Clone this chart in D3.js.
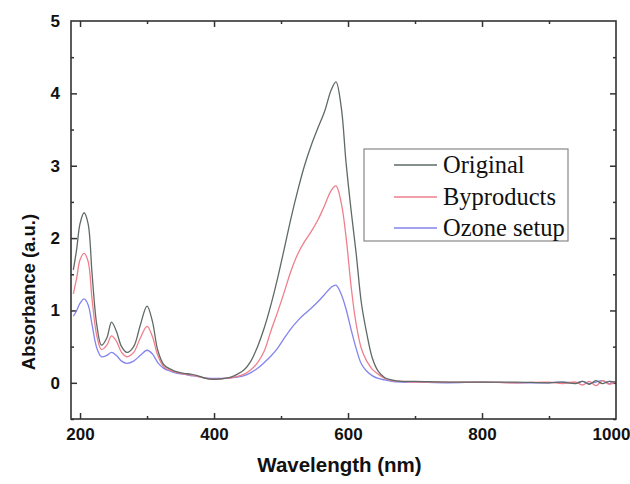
<!DOCTYPE html>
<html>
<head>
<meta charset="utf-8">
<script src="https://cdn.jsdelivr.net/npm/d3@7/dist/d3.min.js"></script>
<style>
  html, body { margin: 0; padding: 0; background: #fff; }
  svg { display: block; }
</style>
</head>
<body>
<svg id="chart" width="630" height="484"></svg>
<script>
// ---- data ----
const wavelengths = [190,195,200,206,212,218,225,232,240,247,254,262,270,280,290,300,308,316,325,335,345,355,365,375,385,395,405,415,425,435,445,455,465,475,485,495,505,515,525,535,545,555,565,575,582,590,597,605,612,620,628,636,645,655,665,680,700,750,800,850,900,920,940,950,960,970,980,990,1000];

const original = [1.56,1.85,2.20,2.35,2.20,1.50,0.80,0.52,0.62,0.84,0.72,0.50,0.42,0.50,0.80,1.06,0.85,0.45,0.25,0.19,0.15,0.13,0.12,0.10,0.07,0.05,0.05,0.06,0.08,0.12,0.18,0.30,0.50,0.76,1.08,1.45,1.86,2.28,2.66,3.00,3.28,3.52,3.75,4.05,4.16,3.80,3.05,2.35,1.80,1.10,0.68,0.35,0.16,0.07,0.04,0.02,0.02,0.01,0.01,0.01,0.00,0.01,-0.01,0.02,-0.02,0.03,-0.01,0.02,0.01];

const byproducts = [1.23,1.45,1.70,1.79,1.68,1.15,0.65,0.46,0.52,0.65,0.58,0.42,0.36,0.42,0.62,0.78,0.64,0.38,0.22,0.17,0.14,0.12,0.11,0.09,0.07,0.05,0.05,0.06,0.07,0.09,0.12,0.18,0.28,0.44,0.72,0.98,1.26,1.55,1.78,1.95,2.09,2.25,2.45,2.66,2.72,2.48,2.02,1.30,0.82,0.47,0.30,0.19,0.12,0.06,0.03,0.02,0.01,0.01,0.01,0.00,0.01,-0.01,0.01,-0.03,0.02,-0.04,0.03,-0.02,0.02];

const ozone = [0.92,1.00,1.10,1.16,1.08,0.80,0.48,0.36,0.38,0.42,0.38,0.30,0.27,0.30,0.38,0.45,0.40,0.28,0.20,0.16,0.13,0.12,0.10,0.09,0.07,0.06,0.06,0.06,0.07,0.08,0.10,0.14,0.20,0.28,0.37,0.48,0.62,0.75,0.86,0.95,1.03,1.12,1.22,1.32,1.35,1.22,1.02,0.72,0.48,0.26,0.16,0.10,0.06,0.04,0.02,0.01,0.01,0.00,0.01,0.00,0.00,0.01,0.00,0.02,-0.01,0.01,0.03,-0.01,0.01];

const seriesNames = ["Original", "Byproducts", "Ozone setup"];
const seriesColors = ["#5f6a64", "#ef7f8c", "#8484ee"];
const xMajorTicks = [200, 400, 600, 800, 1000];
const xMinorTicks = [300, 500, 700, 900];
const yMajorTicks = [0, 1, 2, 3, 4, 5];
const yMinorTicks = [-0.5, 0.5, 1.5, 2.5, 3.5, 4.5];

// ---- layout ----
const svg = d3.select("#chart");
const L = 71, R = 616, T = 21, B = 419;

const x = d3.scaleLinear().domain([186.5, 1000]).range([L, R]);
const y = d3.scaleLinear().domain([-0.5, 5]).range([B, T]);

const axisColor = "#333";
const tickFont = "'Liberation Sans', Arial, sans-serif";

function styleAxis(g) {
  g.select(".domain").remove();
  g.selectAll(".tick line").attr("stroke", axisColor).attr("stroke-width", 1.5);
  g.selectAll(".tick text")
    .attr("font-family", tickFont).attr("font-weight", "bold")
    .attr("font-size", 17).attr("fill", "#111");
}

// bottom
svg.append("g").attr("transform", `translate(0,${B})`)
  .call(d3.axisBottom(x).tickValues(xMajorTicks).tickSize(-6).tickPadding(9).tickFormat(d3.format("d")))
  .call(styleAxis)
  .call(g => g.selectAll(".tick").filter(d => d === 1000).select("line").remove())
  .call(g => g.selectAll(".tick").filter(d => d === 1000).select("text").attr("dx", -5));
svg.append("g").attr("transform", `translate(0,${B})`)
  .call(d3.axisBottom(x).tickValues(xMinorTicks).tickSize(-3).tickFormat(""))
  .call(styleAxis);
// top
svg.append("g").attr("transform", `translate(0,${T})`)
  .call(d3.axisTop(x).tickValues(xMajorTicks.filter(d => d < 1000)).tickSize(-6).tickFormat(""))
  .call(styleAxis);
svg.append("g").attr("transform", `translate(0,${T})`)
  .call(d3.axisTop(x).tickValues(xMinorTicks).tickSize(-3).tickFormat(""))
  .call(styleAxis);
// left
svg.append("g").attr("transform", `translate(${L},0)`)
  .call(d3.axisLeft(y).tickValues(yMajorTicks).tickSize(-6).tickPadding(11).tickFormat(d3.format("d")))
  .call(styleAxis)
  .call(g => g.selectAll(".tick").filter(d => d === 5).select("line").remove());
svg.append("g").attr("transform", `translate(${L},0)`)
  .call(d3.axisLeft(y).tickValues(yMinorTicks).tickSize(-3).tickFormat(""))
  .call(styleAxis);
// right
svg.append("g").attr("transform", `translate(${R},0)`)
  .call(d3.axisRight(y).tickValues(yMajorTicks.filter(d => d < 5)).tickSize(-6).tickFormat(""))
  .call(styleAxis);
svg.append("g").attr("transform", `translate(${R},0)`)
  .call(d3.axisRight(y).tickValues(yMinorTicks).tickSize(-3).tickFormat(""))
  .call(styleAxis);

// clip
svg.append("defs").append("clipPath").attr("id", "plotclip")
  .append("rect").attr("x", L).attr("y", T).attr("width", R - L).attr("height", B - T);

// lines
const allSeries = [original, byproducts, ozone];
const line = d3.line()
  .x((d, i) => x(wavelengths[i]))
  .y(d => y(d))
  .curve(d3.curveCatmullRom.alpha(0.5));

const plot = svg.append("g").attr("clip-path", "url(#plotclip)");
[2, 1, 0].forEach(k => {
  plot.append("path")
    .datum(allSeries[k])
    .attr("d", line)
    .attr("fill", "none")
    .attr("stroke", seriesColors[k])
    .attr("stroke-width", 1.3);
});

// frame
svg.append("rect")
  .attr("x", L).attr("y", T).attr("width", R - L).attr("height", B - T)
  .attr("fill", "none").attr("stroke", axisColor).attr("stroke-width", 1.6);

// axis titles
svg.append("text")
  .attr("x", (L + R) / 2 - 4).attr("y", 472)
  .attr("text-anchor", "middle")
  .attr("font-family", tickFont).attr("font-weight", "bold").attr("font-size", 20.5)
  .attr("fill", "#111")
  .text("Wavelength (nm)");

svg.append("text")
  .attr("transform", "translate(35,292) rotate(-90)")
  .attr("text-anchor", "middle")
  .attr("font-family", tickFont).attr("font-weight", "bold").attr("font-size", 18.5)
  .attr("fill", "#111")
  .text("Absorbance (a.u.)");

// legend
const legend = svg.append("g");
legend.append("rect")
  .attr("x", 364).attr("y", 149).attr("width", 204).attr("height", 92)
  .attr("fill", "#fff").attr("stroke", "#888").attr("stroke-width", 1.2);
const rowY = [165, 197, 228];
seriesNames.forEach((name, i) => {
  legend.append("line")
    .attr("x1", 394).attr("x2", 437).attr("y1", rowY[i]).attr("y2", rowY[i])
    .attr("stroke", seriesColors[i]).attr("stroke-width", 1.5);
  legend.append("text")
    .attr("x", 443).attr("y", rowY[i]).attr("dy", "0.33em")
    .attr("font-family", "'Liberation Serif', 'Times New Roman', serif")
    .attr("font-size", 24.5).attr("fill", "#111")
    .text(name);
});
</script>
</body>
</html>
